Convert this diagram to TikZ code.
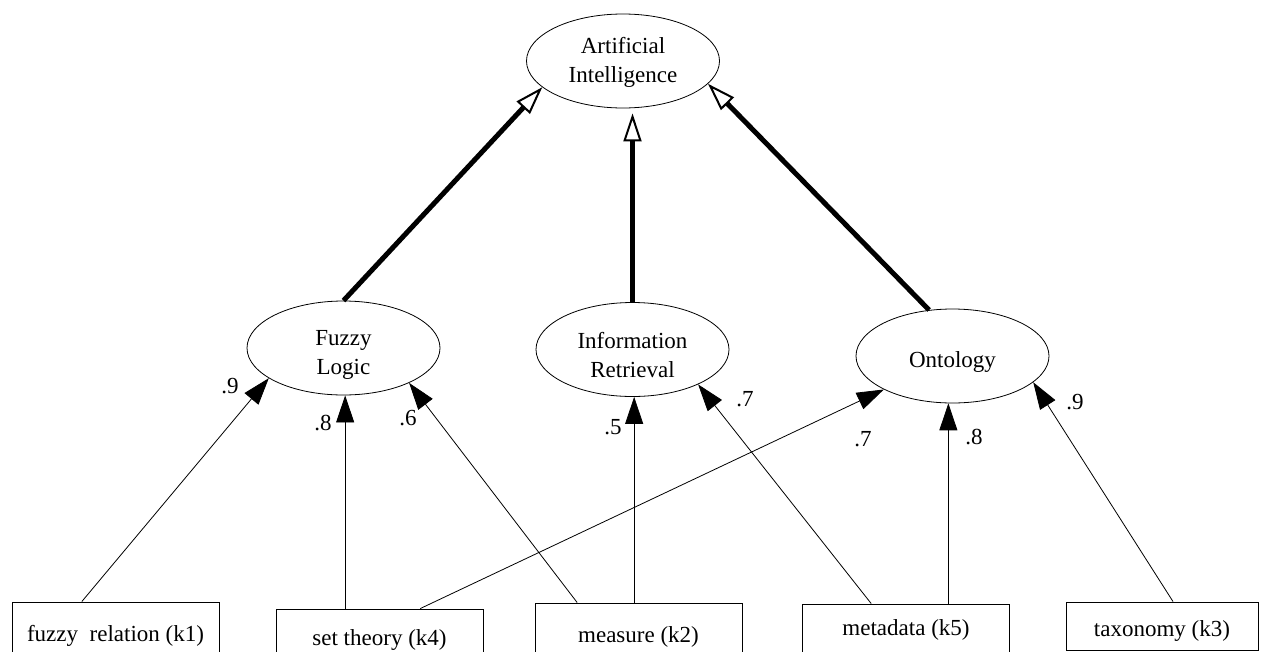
\documentclass[tikz,border=0pt]{standalone}
\usepackage{fontspec}
\setmainfont{Liberation Serif}
\usetikzlibrary{shapes.geometric,arrows.meta,calc}
% strut on the first line of a concept label, lowering the text in its ellipse
\newcommand{\toplift}[1]{\rule{0pt}{#1}}
\begin{document}
\begin{tikzpicture}[x=1pt,y=-1pt,
  every node/.style={font=\fontsize{23}{29}\selectfont},
  concept/.style={ellipse, draw, line width=0.8pt, inner sep=0pt,
    minimum width=193pt, minimum height=94pt, align=center},
  kbox/.style={rectangle, draw, line width=0.9pt, inner sep=0pt},
  weight/.style={-{Triangle[length=27pt,width=18pt]}, line width=0.8pt},
  broader/.style={-{Triangle[open,length=28pt,width=18pt,line width=2pt]},
    line width=5pt},
  wlabel/.style={inner sep=0pt}
]
\useasboundingbox (0,0) rectangle (1263,651);
\clip (0,0) rectangle (1263,651);

% concepts
\node[concept] (ai) at (623,61)     {\toplift{19.5pt}Artificial\\Intelligence};
\node[concept] (fl) at (343.5,348)  {\toplift{29.5pt}Fuzzy\\Logic};
\node[concept] (ir) at (632.5,349.5){\toplift{26.5pt}Information\\Retrieval};
\node[concept] (on) at (952.5,356)  {\toplift{28.5pt}Ontology};

% keywords
\node[kbox, minimum width=207pt, minimum height=68pt] (k1) at (115.5,636) {fuzzy\ \ relation (k1)};
\node[kbox, minimum width=207pt, minimum height=62pt] (k4) at (379.5,640) {set theory (k4)};
\node[kbox, minimum width=207pt, minimum height=68pt] (k2) at (638.5,637) {measure (k2)};
\node[kbox, minimum width=207.5pt, minimum height=52pt] (k5) at (906,630) {metadata (k5)};
\node[kbox, minimum width=192pt, minimum height=48pt,
      label={[yshift=-5pt]center:taxonomy (k3)}] (k3) at (1162,626) {};

% concept hierarchy
\draw[broader] (fl.north) -- (ai.198);
\draw[broader, shorten >=5pt] (ir.north) -- (ir.north |- ai.south);
\draw[broader] (on.117) -- (ai.345.5);

% weighted keyword links
\draw[weight] ($(k1.north west)!0.338!(k1.north east)$) -- (fl.202);
\draw[weight] (fl.272 |- k4.north) -- (fl.272);
\draw[weight] ($(k2.north west)!0.205!(k2.north east)$) -- (fl.332);
\draw[weight] (ir.272 |- k2.north) -- (ir.272);
\draw[weight] ($(k4.north west)!0.696!(k4.north east)$) -- (on.206.7);
\draw[weight] ($(k5.north west)!0.333!(k5.north east)$) -- (ir.332);
\draw[weight] (on.265 |- k5.north) -- (on.265);
\draw[weight] ($(k3.north west)!0.557!(k3.north east)$) -- (on.342);

% weights
\node[wlabel] (w1) at (230,386) {.9};
\node[wlabel] (w2) at (323,423) {.8};
\node[wlabel] (w3) at (408,418) {.6};
\node[wlabel] (w4) at (613,427) {.5};
\node[wlabel] (w5) at (745,399) {.7};
\node[wlabel] (w6) at (863,439) {.7};
\node[wlabel] (w7) at (974,437) {.8};
\node[wlabel] (w8) at (1075,402) {.9};
\end{tikzpicture}
\end{document}
